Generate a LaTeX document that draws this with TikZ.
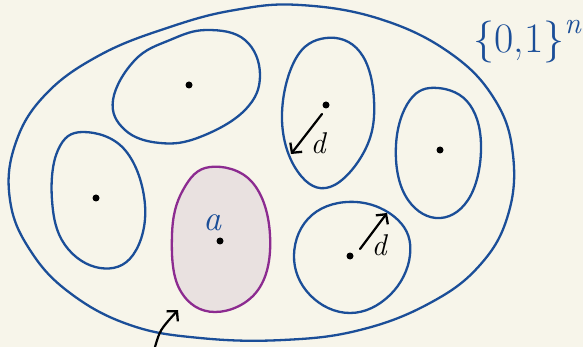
\documentclass[tikz,border=0pt]{standalone}
\usepackage{fontspec}
\usetikzlibrary{arrows.meta}
\definecolor{bg}{HTML}{F7F5EA}
\definecolor{ink}{HTML}{1B4E98}
\definecolor{purp}{HTML}{8C2B90}
\definecolor{pfill}{HTML}{E9E1E0}
\begin{document}
\begin{tikzpicture}[x=1pt,y=-1pt,
  blob/.style={draw=ink,line width=2.3pt},
  pblob/.style={draw=purp,fill=pfill,line width=2.3pt},
  pt/.style={circle,fill=black,inner sep=0pt,minimum size=7pt},
  arr/.style={-{Straight Barb[length=7pt,width=15pt,line width=2.3pt]},line width=2.2pt,black,line cap=round},
  lbl/.style={font=\fontsize{30}{30}\selectfont\itshape}]
\fill[bg] (0,0) rectangle (583,347);
\useasboundingbox (0,0) rectangle (583,347);
% outer set
\draw[blob] plot[smooth cycle,tension=0.68] coordinates {(300,5) (380,19) (450,53) (495,100) (513,155) (508,215) (480,265) (430,303) (360,330) (283,340) (200,338) (130,325) (70,293) (30,250) (10,200) (15,145) (45,95) (100,55) (170,27) (235,10)};
% top-left ball
\draw[blob] plot[smooth cycle,tension=0.68] coordinates {(207,30) (245,40) (260,75) (245,110) (200,137) (160,143) (125,130) (113,100) (135,60) (170,40)};
% top-middle ball
\draw[blob] plot[smooth cycle,tension=0.68] coordinates {(326,38) (360,52) (374,100) (365,150) (330,187) (298,172) (282,120) (295,60)};
% right ball
\draw[blob] plot[smooth cycle,tension=0.68] coordinates {(438,88) (470,105) (481,150) (468,200) (436,218) (405,195) (396,145) (410,100)};
% left ball
\draw[blob] plot[smooth cycle,tension=0.68] coordinates {(83,132) (125,150) (145,205) (133,255) (100,268) (65,245) (52,200) (58,150)};
% purple ball
\draw[pblob] plot[smooth cycle,tension=0.68] coordinates {(210,167) (252,182) (270,235) (258,290) (215,312) (180,290) (172,235) (183,190)};
% bottom-right ball
\draw[blob] plot[smooth cycle,tension=0.68] coordinates {(356,202) (398,220) (410,255) (390,295) (350,313) (310,295) (294,255) (312,215)};
% centers
\node[pt] (c1) at (189,85) {};
\node[pt] (c2) at (326,105) {};
\node[pt] (c3) at (440,150) {};
\node[pt] (c4) at (96,198) {};
\node[pt] (c5) at (220,241) {};
\node[pt] (c6) at (350,256) {};
% radius arrows
\coordinate (e2) at (291,154);
\draw[arr] (322,114) -- (e2);
\node[lbl] (d2) at (318,143) {d};
\coordinate (s6) at (360,249);
\coordinate (e6) at (387,213);
\draw[arr] (s6) -- (e6);
\node[lbl] (d6) at (379,245) {d};
% labels
\node[text=ink,font=\fontsize{36}{36}\selectfont\itshape] (a) at (212,223) {a};
\node[text=ink,font=\fontsize{42}{42}\selectfont] (set) at (527,42) {\{0,1\}\raisebox{0.45em}{\fontsize{30}{30}\selectfont\itshape n}};
% pointer arrow
\coordinate (p0) at (155,347);
\coordinate (p1) at (178,310);
\draw[arr] (p0) .. controls (160,330) .. (p1);
\end{tikzpicture}
\end{document}
